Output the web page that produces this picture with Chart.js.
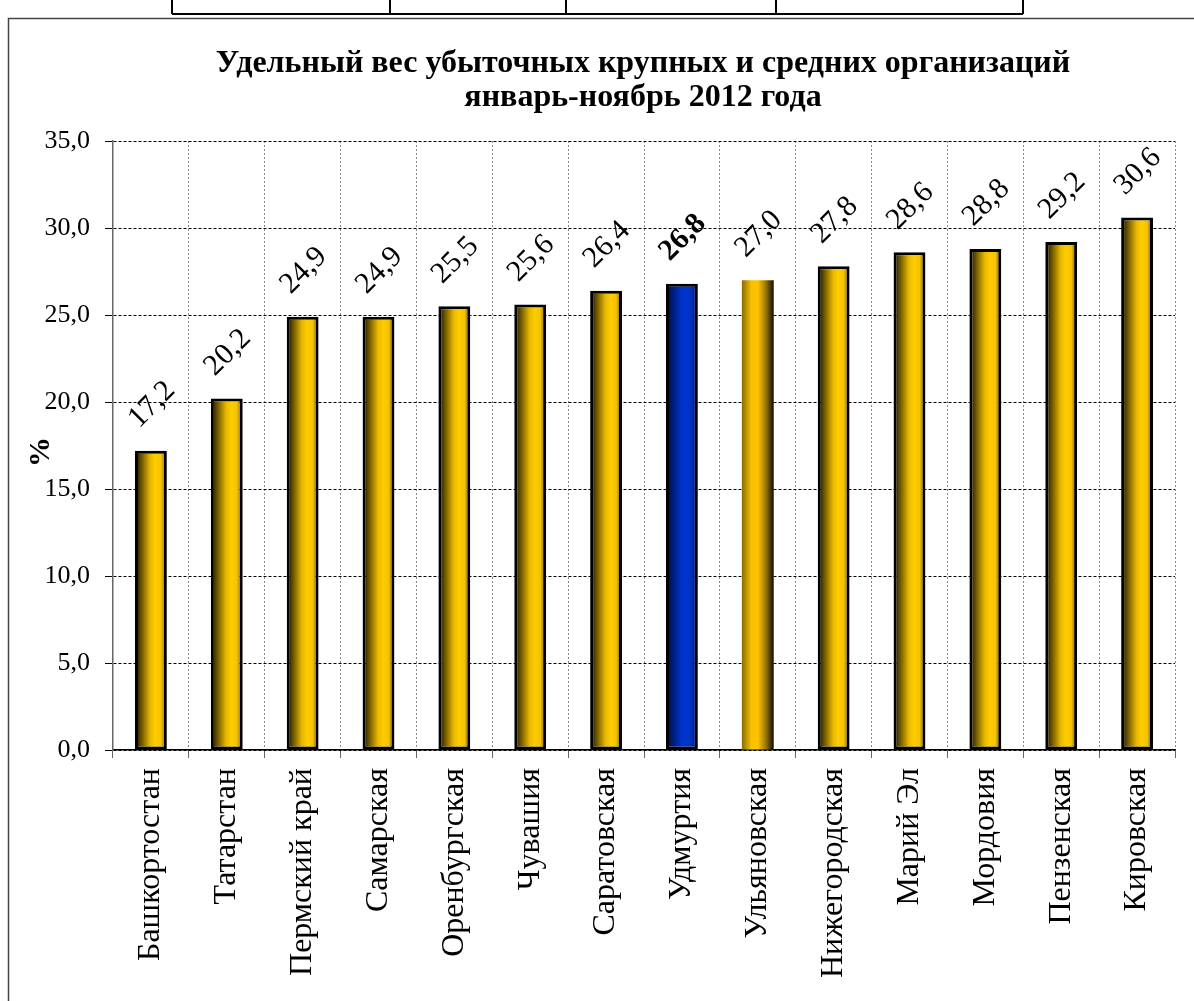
<!DOCTYPE html>
<html>
<head>
<meta charset="utf-8">
<script src="https://cdn.jsdelivr.net/npm/chart.js@4"></script>
<style>
  body { margin: 0; background: #fff; }
  canvas { display: block; }
</style>
</head>
<body>
<canvas id="chart" width="1194" height="1001"></canvas>
<script>
var regions = ['Башкортостан', 'Татарстан', 'Пермский край', 'Самарская', 'Оренбургская', 'Чувашия', 'Саратовская',
  'Удмуртия', 'Ульяновская', 'Нижегородская', 'Марий Эл', 'Мордовия', 'Пензенская', 'Кировская'];
var shares = [17.2, 20.2, 24.9, 24.9, 25.5, 25.6, 26.4, 26.8, 27.0, 27.8, 28.6, 28.8, 29.2, 30.6];
var highlight = 'Удмуртия';
var titleLines = ['Удельный вес убыточных крупных и средних организаций', 'январь-ноябрь 2012 года'];
var yTitle = '%';

var serif = "'Times New Roman', 'Liberation Serif', serif";
var barPct = 0.42;

function fmt(v) {
  return Number(v).toFixed(1).replace('.', ',');
}

// cylinder-like gradient for each bar
function barFill(c) {
  var chart = c.chart;
  var x = chart.scales.x;
  if (!x || !chart.chartArea) return '#ffcc00';
  var cx = x.getPixelForValue(c.dataIndex);
  var w = (x.width / regions.length) * barPct;
  var g = chart.ctx.createLinearGradient(cx - w / 2, 0, cx + w / 2, 0);
  if (regions[c.dataIndex] === highlight) {
    g.addColorStop(0, '#000a30');
    g.addColorStop(0.45, '#0030c4');
    g.addColorStop(0.62, '#0036d0');
    g.addColorStop(0.82, '#002fb8');
    g.addColorStop(1, '#001040');
  } else if (c.dataIndex === 8) {
    g.addColorStop(0, '#8a6c00');
    g.addColorStop(0.3, '#f7c200');
    g.addColorStop(0.5, '#ffc400');
    g.addColorStop(0.75, '#9c7800');
    g.addColorStop(1, '#100c00');
  } else {
    g.addColorStop(0, '#100c00');
    g.addColorStop(0.48, '#e8b800');
    g.addColorStop(0.64, '#ffcc00');
    g.addColorStop(0.82, '#f5c300');
    g.addColorStop(1, '#5a4600');
  }
  return g;
}

var decor = {
  id: 'decor',
  beforeDraw: function(chart) {
    var ctx = chart.ctx;
    ctx.save();
    ctx.fillStyle = '#fff';
    ctx.fillRect(0, 0, chart.width, chart.height);
    // fragment of the table above the chart
    ctx.strokeStyle = '#000';
    ctx.lineWidth = 2;
    ctx.beginPath();
    ctx.moveTo(172, 14); ctx.lineTo(1023, 14);
    [172, 390, 566, 776, 1023].forEach(function(px) {
      ctx.moveTo(px, 0); ctx.lineTo(px, 14);
    });
    ctx.stroke();
    // chart frame
    ctx.strokeStyle = '#444';
    ctx.lineWidth = 1.5;
    ctx.strokeRect(8.5, 18.5, 1300, 1300);
    // title
    ctx.fillStyle = '#000';
    ctx.font = 'bold 32px ' + serif;
    ctx.textAlign = 'center';
    ctx.textBaseline = 'alphabetic';
    ctx.fillText(titleLines[0], 643, 72);
    ctx.fillText(titleLines[1], 643, 106);
    // y title
    ctx.translate(41, 452);
    ctx.rotate(-Math.PI / 2);
    ctx.textBaseline = 'middle';
    ctx.font = 'bold 30px ' + serif;
    ctx.fillText(yTitle, 0, 0);
    ctx.restore();
  },
  afterDatasetsDraw: function(chart) {
    var ctx = chart.ctx;
    var meta = chart.getDatasetMeta(0);
    ctx.save();
    ctx.fillStyle = '#000';
    ctx.textAlign = 'center';
    ctx.textBaseline = 'middle';
    meta.data.forEach(function(el, i) {
      ctx.save();
      ctx.translate(el.x + 1, el.y - 46);
      ctx.rotate(-Math.PI / 4);
      ctx.font = (regions[i] === highlight ? 'bold ' : '') + '30px ' + serif;
      ctx.fillText(fmt(shares[i]), 0, 0);
      ctx.restore();
    });
    ctx.restore();
  }
};

var config = {
  type: 'bar',
  data: {
    labels: regions,
    datasets: [{
      data: shares,
      backgroundColor: barFill,
      borderColor: '#000',
      borderWidth: function(c) { return c.dataIndex === 8 ? 0 : 3; },
      borderSkipped: false,
      barPercentage: barPct,
      categoryPercentage: 1
    }]
  },
  options: {
    responsive: false,
    animation: false,
    layout: {
      padding: { top: 141, right: 19, bottom: 0, left: 0 }
    },
    plugins: {
      legend: { display: false },
      title: { display: false },
      tooltip: { enabled: false }
    },
    scales: {
      x: {
        afterFit: function(s) { s.height = 251; },
        grid: { color: '#888', lineWidth: 1, tickLength: 8, tickColor: '#666', offset: true },
        border: { color: '#000', width: 1.5, dash: [2, 2] },
        ticks: {
          color: '#000',
          font: { family: serif, size: 32 },
          minRotation: 90,
          maxRotation: 90,
          autoSkip: false,
          padding: 10
        }
      },
      y: {
        min: 0,
        max: 35,
        afterFit: function(s) { s.width = 113; },
        grid: { color: '#000', lineWidth: 1, tickLength: 8, tickColor: '#000' },
        border: { color: '#666', width: 1.5, dash: [3, 2] },
        ticks: {
          stepSize: 5,
          color: '#000',
          padding: 15,
          font: { family: serif, size: 26 },
          callback: function(v) { return fmt(v); }
        }
      }
    }
  },
  plugins: [decor]
};

var ctx = document.getElementById('chart').getContext('2d');
window.myChart = new Chart(ctx, config);
</script>
</body>
</html>
